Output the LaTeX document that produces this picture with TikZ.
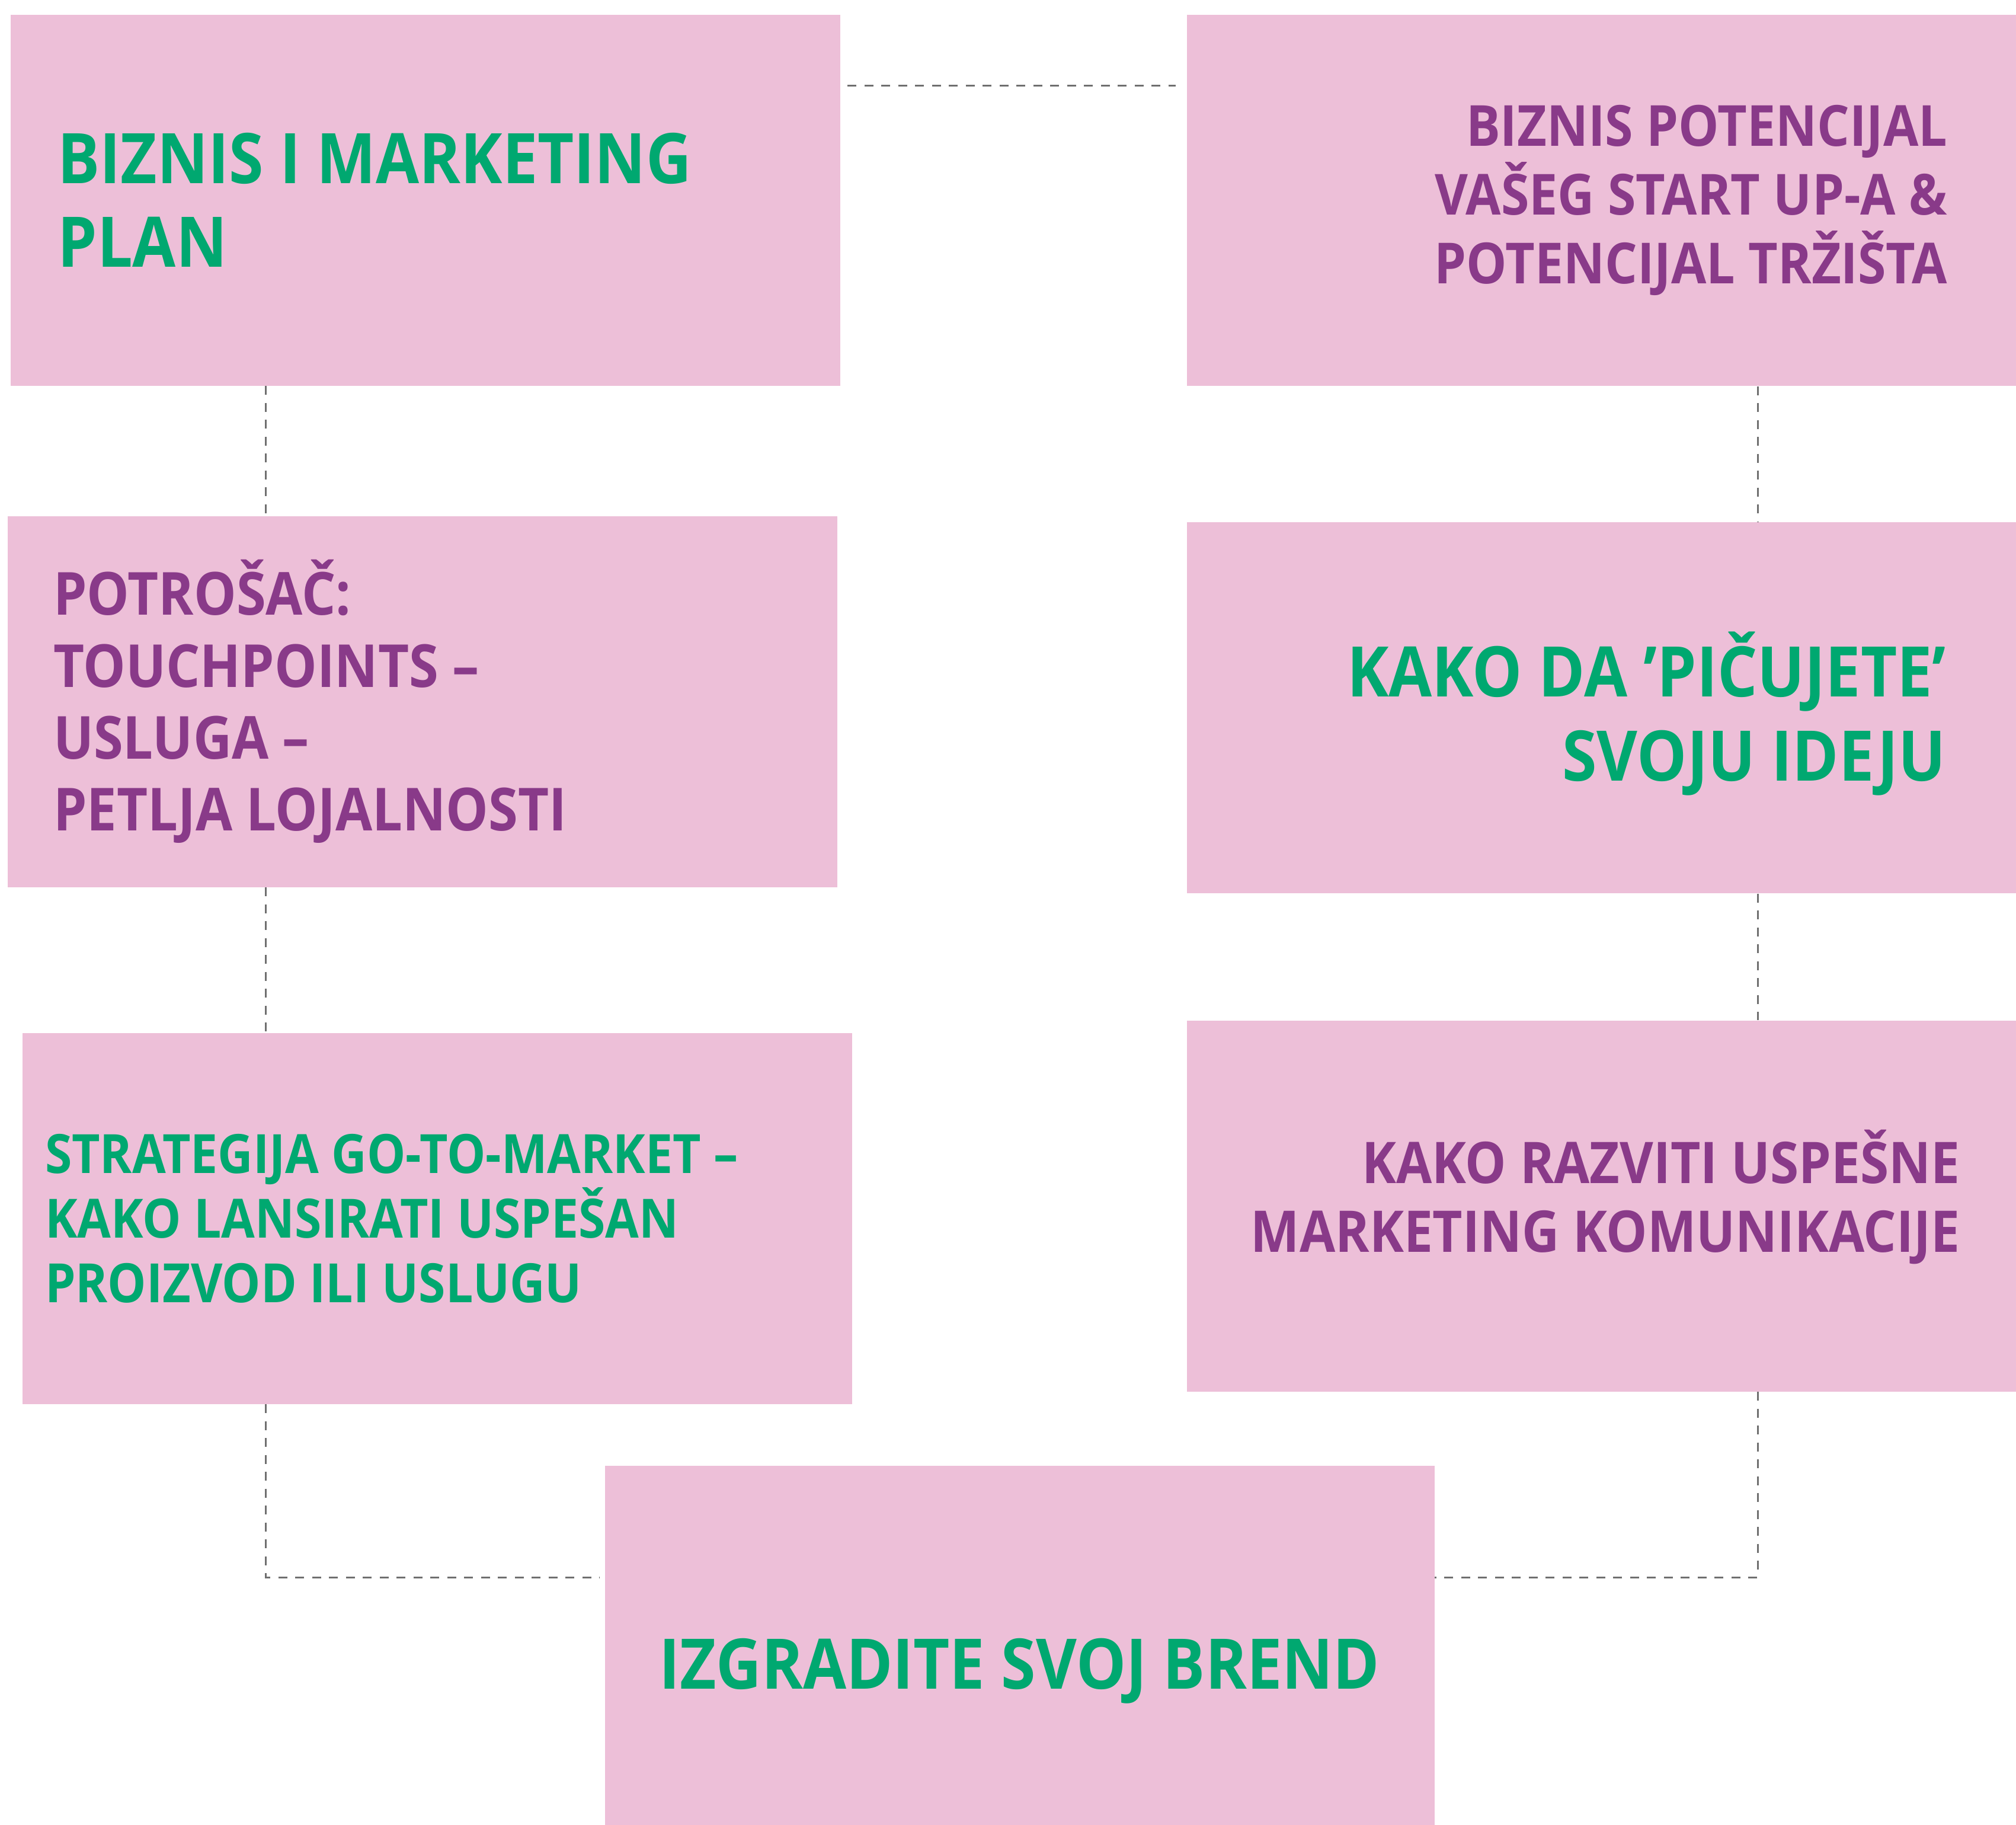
\documentclass[tikz,border=0pt]{standalone}
\usepackage{fontspec}
\setmainfont{Open Sans}[FakeStretch=0.90]
\usetikzlibrary{positioning}
\definecolor{boxPink}{RGB}{237,191,216}
\definecolor{titleGreen}{RGB}{0,168,112}
\definecolor{titlePurple}{RGB}{137,58,137}
\definecolor{linkGray}{RGB}{111,111,111}

\begin{document}
\begin{tikzpicture}

            \tikzstyle{topicBox} = [fill=boxPink, minimum width=14cm, minimum height=6.26cm, inner sep=0];
            \tikzstyle{greenText} = [titleGreen, inner sep=0];
            \tikzstyle{purpleText} = [titlePurple, inner sep=0];
            \tikzstyle{link} = [linkGray, line width=0.03cm, dash pattern=on 0.15cm off 0.135cm];

            \tikzstyle{bigSize} = [font=\bfseries\fontsize{33.5}{40.2}\selectfont];
            \tikzstyle{midSize} = [font=\bfseries\fontsize{28.5}{34.5}\selectfont];
            \tikzstyle{smallSize} = [font=\bfseries\fontsize{26}{31}\selectfont];
            \tikzstyle{rightSize} = [font=\bfseries\fontsize{27.2}{33}\selectfont];

            \useasboundingbox (0,0) rectangle (34.02,-30.79);

            \node[topicBox] (plan) at (7.175,-3.375) {};
            \node[topicBox] (potential) at (27.03,-3.38) {};
            \node[topicBox] (consumer) at (7.13,-11.835) {};
            \node[topicBox] (pitch) at (27.03,-11.94) {};
            \node[topicBox] (strategy) at (7.38,-20.555) {};
            \node[topicBox] (comms) at (27.03,-20.345) {};
            \node[topicBox] (brand) at (17.205,-27.86) {};

            \node[greenText, bigSize, align=left, right=0.8cm of plan.west] (planText) {BIZNIS I MARKETING\\PLAN};
            \node[purpleText, rightSize, align=right, left=1.17cm of potential.east] (potentialText) {BIZNIS POTENCIJAL\\VAŠEG START UP-A \&\\POTENCIJAL TRŽIŠTA};
            \node[purpleText, midSize, align=left, right=0.77cm of consumer.west] (consumerText) {POTROŠAČ:\\TOUCHPOINTS –\\USLUGA –\\PETLJA LOJALNOSTI};
            \node[greenText, bigSize, align=right, left=1.19cm of pitch.east, yshift=-0.1cm] (pitchText) {KAKO DA ’PIČUJETE’\\SVOJU IDEJU};
            \node[greenText, smallSize, align=left, right=0.38cm of strategy.west] (strategyText) {STRATEGIJA GO-TO-MARKET –\\KAKO LANSIRATI USPEŠAN\\PROIZVOD ILI USLUGU};
            \node[purpleText, font=\bfseries\fontsize{27.6}{33.2}\selectfont, align=right, left=0.96cm of comms.east, yshift=0.15cm] (commsText) {KAKO RAZVITI USPEŠNE\\MARKETING KOMUNIKACIJE};
            \node[greenText, bigSize, yshift=-0.33cm] (brandText) at (brand) {IZGRADITE SVOJ BREND};

            \coordinate (leftLane) at (4.48,0);
            \coordinate (rightLane) at (29.66,0);
            \coordinate (topLane) at (0,-1.44);
            \coordinate (bottomLane) at (0,-26.61);

            \draw[link, shorten <=0.12cm, shorten >=0.18cm] (plan.east |- topLane) -- (potential.west |- topLane);
            \draw[link] (plan.south -| leftLane) -- (consumer.north -| leftLane);
            \draw[link] (consumer.south -| leftLane) -- (strategy.north -| leftLane);
            \draw[link, shorten >=0.08cm] (strategy.south -| leftLane) |- (brand.west |- bottomLane);
            \draw[link] (potential.south -| rightLane) -- (pitch.north -| rightLane);
            \draw[link] (pitch.south -| rightLane) -- (comms.north -| rightLane);
            \draw[link] (comms.south -| rightLane) |- (brand.east |- bottomLane);
          \end{tikzpicture}
\end{document}
